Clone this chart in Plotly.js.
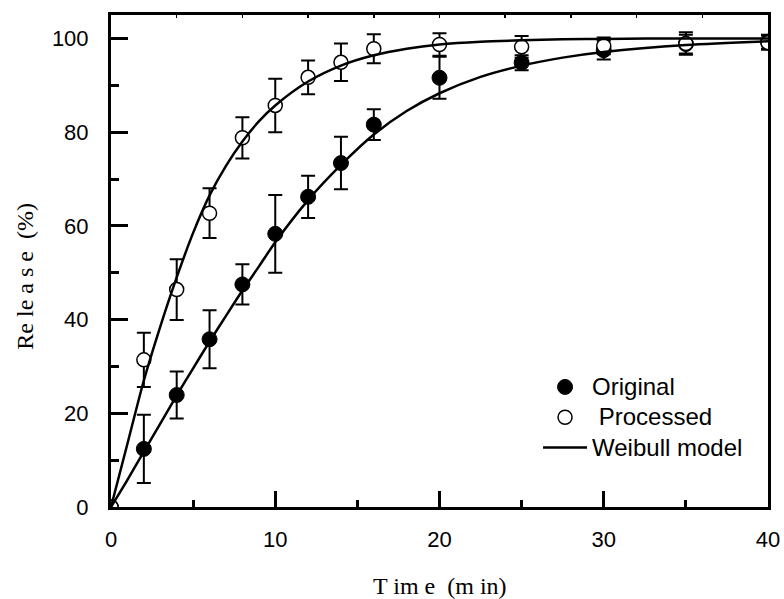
<!DOCTYPE html>
<html>
<head>
<meta charset="utf-8">
<script src="https://cdn.plot.ly/plotly-3.0.1.min.js"></script>
<style>html,body{margin:0;padding:0;background:#fff;}#chart{width:784px;height:599px;}</style>
</head>
<body>
<div id="chart"></div>
<script>
// Measured data (Time in min, Release in %)
const time = [0, 2, 4, 6, 8, 10, 12, 14, 16, 20, 25, 30, 35, 40];
const original = [0, 12.4, 23.9, 35.8, 47.5, 58.3, 66.2, 73.4, 81.6, 91.6, 94.8, 97.5, 98.8, 99.3];
const originalErr = [0, 7.3, 5.0, 6.2, 4.3, 8.3, 4.5, 5.6, 3.3, 4.5, 1.6, 2.0, 2.0, 1.5];
const processed = [0, 31.4, 46.4, 62.7, 78.8, 85.7, 91.7, 94.9, 97.8, 98.7, 98.2, 98.4, 98.9, 99.1];
const processedErr = [0, 5.8, 6.5, 5.3, 4.4, 5.7, 3.6, 4.0, 3.1, 2.4, 2.3, 1.8, 2.4, 1.5];

// Weibull model curves
const modelTime = [0, 1, 2, 3, 4, 5, 6, 7, 8, 9, 10, 12, 14, 16, 18, 20, 22.5, 25, 27.5, 30, 35, 40];
const modelOriginal = [0, 5.8, 11.8, 17.8, 23.8, 29.6, 35.3, 40.8, 46.2, 51.3, 56.5, 65.5, 73.0, 79.5, 84.5, 88.3, 91.8, 94.2, 95.9, 97.1, 98.6, 99.4];
const modelProcessed = [0, 13.5, 27.0, 38.5, 49.0, 58.5, 66.5, 72.8, 78.0, 82.3, 85.7, 90.8, 94.2, 96.4, 97.8, 98.7, 99.3, 99.6, 99.8, 99.9, 100, 100];

const xTicks = [0, 10, 20, 30, 40];
const yTicks = [0, 20, 40, 60, 80, 100];
const topTicks = [4, 8, 12, 16, 20, 24, 28, 32, 36];
const xTitle = 'T im e  (m in)';
const yTitle = 'Re le a s e  (%)';

const sans = 'Liberation Sans, Arial, sans-serif';
const serif = 'Liberation Serif, Times New Roman, serif';

const errStyle = {type: 'data', visible: true, thickness: 2, width: 7, color: '#000'};

const traces = [
  {
    x: time, y: original, name: 'Original', type: 'scatter', mode: 'markers',
    marker: {symbol: 'circle', size: 15, color: '#000', line: {color: '#000', width: 1}},
    error_y: Object.assign({array: originalErr}, errStyle)
  },
  {
    x: time, y: processed, name: '\u00a0Processed', type: 'scatter', mode: 'markers',
    marker: {symbol: 'circle', size: 14, color: '#fff', line: {color: '#000', width: 1.5}},
    error_y: Object.assign({array: processedErr}, errStyle)
  },
  {
    x: modelTime, y: modelOriginal, name: 'Weibull model', type: 'scatter', mode: 'lines',
    line: {color: '#000', width: 2.5, shape: 'spline', smoothing: 0.8}
  },
  {
    x: modelTime, y: modelProcessed, name: 'Weibull model', type: 'scatter', mode: 'lines',
    showlegend: false,
    line: {color: '#000', width: 2.5, shape: 'spline', smoothing: 0.8}
  },
  {
    x: [], y: [], xaxis: 'x2', type: 'scatter', mode: 'markers', showlegend: false, hoverinfo: 'skip'
  }
];

const layout = {
  width: 784, height: 599,
  margin: {l: 111, r: 16, t: 15, b: 92},
  paper_bgcolor: '#fff', plot_bgcolor: '#fff',
  showlegend: true,
  legend: {
    x: 0.65, y: 0.285, xanchor: 'left', yanchor: 'top',
    font: {family: sans, size: 21, color: '#000'},
    bgcolor: 'rgba(0,0,0,0)', borderwidth: 0,
    itemwidth: 44, tracegroupgap: 0
  },
  xaxis: {
    range: [0, 40], tickvals: xTicks, ticktext: xTicks.map(String),
    showline: true, linecolor: '#000', linewidth: 3, mirror: true,
    ticks: 'inside', ticklen: 16, tickwidth: 3, tickcolor: '#000',
    minor: {tickvals: [5, 15, 25, 35], ticks: 'inside', ticklen: 7, tickwidth: 3, tickcolor: '#000'},
    showgrid: false, zeroline: false,
    tickfont: {family: sans, size: 22, color: '#000'},
    ticklabelstandoff: 11,
    automargin: false
  },
  xaxis2: {
    overlaying: 'x', side: 'top', range: [0, 40], tickvals: topTicks,
    ticks: 'inside', ticklen: 3, tickwidth: 1.5, tickcolor: '#000',
    showticklabels: false, showline: false, showgrid: false, zeroline: false
  },
  yaxis: {
    range: [0, 105], tickvals: yTicks, ticktext: yTicks.map(String),
    showline: true, linecolor: '#000', linewidth: 3, mirror: true,
    ticks: 'inside', ticklen: 17, tickwidth: 3, tickcolor: '#000',
    minor: {tickvals: [10, 30, 50, 70, 90], ticks: 'inside', ticklen: 8, tickwidth: 3, tickcolor: '#000'},
    showgrid: false, zeroline: false,
    tickfont: {family: sans, size: 22, color: '#000'},
    ticklabelstandoff: 15,
    automargin: false
  },
  annotations: [
    {
      text: xTitle, xref: 'paper', yref: 'paper', x: 0.5, y: -0.16,
      xanchor: 'center', yanchor: 'middle', showarrow: false,
      font: {family: serif, size: 24, color: '#000'}
    },
    {
      text: yTitle, xref: 'paper', yref: 'paper', x: -0.131, y: 0.47,
      xanchor: 'center', yanchor: 'middle', showarrow: false, textangle: -90,
      font: {family: serif, size: 24, color: '#000'}
    }
  ]
};

Plotly.newPlot('chart', traces, layout, {displayModeBar: false, staticPlot: true}).then(function (gd) {
  // legend text is larger in the reference than its row spacing allows in Plotly
  gd.querySelectorAll('.legendtext').forEach(function (t) { t.style.fontSize = '24px'; });
  gd.querySelectorAll('.legend [clip-path], .legend').forEach(function (el) { el.removeAttribute('clip-path'); });
});
</script>
</body>
</html>
